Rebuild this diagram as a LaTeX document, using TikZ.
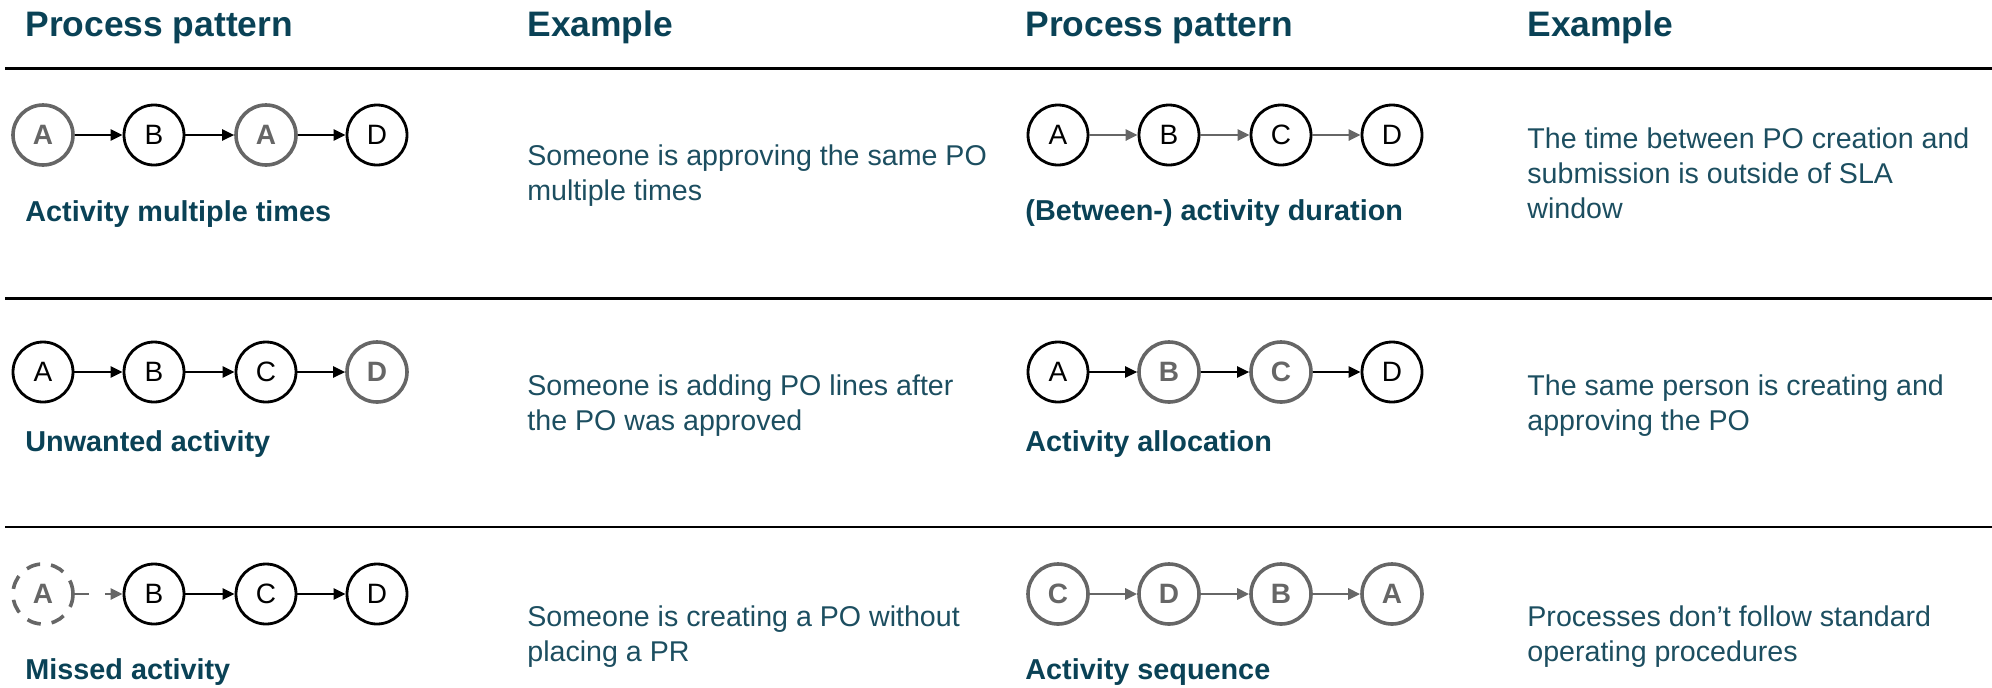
\documentclass[tikz,border=0pt]{standalone}
\usepackage{fontspec}
\setmainfont{Liberation Sans}
\usetikzlibrary{arrows.meta}
\definecolor{headteal}{RGB}{10,66,86}
\definecolor{bodyteal}{RGB}{28,78,96}
\definecolor{pgray}{RGB}{102,102,102}
\tikzset{
  act/.style={circle,draw=black,line width=1.4pt,minimum size=30pt,inner sep=0pt,font=\fontsize{14}{14}\selectfont},
  actg/.style={act,draw=pgray,line width=1.8pt,text=pgray,font=\bfseries\fontsize{14}{14}\selectfont},
  actd/.style={actg,dash pattern=on 7pt off 5.5pt},
  flow/.style={line width=1.2pt,-{Triangle[length=6pt,width=5.5pt]}},
  flowg/.style={flow,draw=pgray,line width=1.4pt},
  flowd/.style={flowg,dash pattern=on 7pt off 8pt},
  head/.style={anchor=base west,inner sep=0pt,text=headteal,font=\bfseries\fontsize{17.7}{20}\selectfont},
  pat/.style={anchor=base west,inner sep=0pt,text=headteal,font=\bfseries\fontsize{14.4}{17}\selectfont},
  ex/.style={anchor=base west,inner sep=0pt,align=left,text=bodyteal,font=\fontsize{14.3}{17.5}\selectfont},
  rule/.style={line width=1.3pt,black}
}
\begin{document}
\begin{tikzpicture}[x=0.5pt,y=-0.5pt]
      \useasboundingbox (0,0) rectangle (1992,687);
      % column heads
      \node[head] (h1) at (25,36) {Process pattern};
      \node[head] (h2) at (527,36) {Example};
      \node[head] (h3) at (1025,36) {Process pattern};
      \node[head] (h4) at (1527,36) {Example};
      \draw[rule] (5,68.6) -- (1992,68.6);
      \draw[rule] (5,298.5) -- (1992,298.5);
      \draw[rule] (5,527) -- (1992,527);
      % activity multiple times
      \node[actg] (p1a) at (43,135) {A};
      \node[act] (p1b) at (154,135) {B};
      \node[actg] (p1c) at (266,135) {A};
      \node[act] (p1d) at (377,135) {D};
      \draw[flow] (p1a) -- (p1b);
      \draw[flow] (p1b) -- (p1c);
      \draw[flow] (p1c) -- (p1d);
      \node[pat] (n1) at (25,221) {Activity multiple times};
      \node[ex] (e1) at (527,200) {Someone is approving the same PO\\multiple times};
      % activity duration
      \node[act] (q1a) at (1058,135) {A};
      \node[act] (q1b) at (1169,135) {B};
      \node[act] (q1c) at (1281,135) {C};
      \node[act] (q1d) at (1392,135) {D};
      \draw[flowg] (q1a) -- (q1b);
      \draw[flowg] (q1b) -- (q1c);
      \draw[flowg] (q1c) -- (q1d);
      \node[pat] (m1) at (1025,220) {(Between-) activity duration};
      \node[ex] (f1) at (1527,218) {The time between PO creation and\\submission is outside of SLA\\window};
      % unwanted activity
      \node[act] (p2a) at (43,372) {A};
      \node[act] (p2b) at (154,372) {B};
      \node[act] (p2c) at (266,372) {C};
      \node[actg] (p2d) at (377,372) {D};
      \draw[flow] (p2a) -- (p2b);
      \draw[flow] (p2b) -- (p2c);
      \draw[flow] (p2c) -- (p2d);
      \node[pat] (n2) at (25,451) {Unwanted activity};
      \node[ex] (e2) at (527,430) {Someone is adding PO lines after\\the PO was approved};
      % activity allocation
      \node[act] (q2a) at (1058,372) {A};
      \node[actg] (q2b) at (1169,372) {B};
      \node[actg] (q2c) at (1281,372) {C};
      \node[act] (q2d) at (1392,372) {D};
      \draw[flow] (q2a) -- (q2b);
      \draw[flow] (q2b) -- (q2c);
      \draw[flow] (q2c) -- (q2d);
      \node[pat] (m2) at (1025,451) {Activity allocation};
      \node[ex] (f2) at (1527,430) {The same person is creating and\\approving the PO};
      % missed activity
      \node[actd] (p3a) at (43,594) {A};
      \node[act] (p3b) at (154,594) {B};
      \node[act] (p3c) at (266,594) {C};
      \node[act] (p3d) at (377,594) {D};
      \draw[flowd] (p3a) -- (p3b);
      \draw[flow] (p3b) -- (p3c);
      \draw[flow] (p3c) -- (p3d);
      \node[pat] (n3) at (25,679) {Missed activity};
      \node[ex] (e3) at (527,661) {Someone is creating a PO without\\placing a PR};
      % activity sequence
      \node[actg] (q3a) at (1058,594) {C};
      \node[actg] (q3b) at (1169,594) {D};
      \node[actg] (q3c) at (1281,594) {B};
      \node[actg] (q3d) at (1392,594) {A};
      \draw[flowg] (q3a) -- (q3b);
      \draw[flowg] (q3b) -- (q3c);
      \draw[flowg] (q3c) -- (q3d);
      \node[pat] (m3) at (1025,679) {Activity sequence};
      \node[ex] (f3) at (1527,661) {Processes don’t follow standard\\operating procedures};
\end{tikzpicture}
\end{document}
